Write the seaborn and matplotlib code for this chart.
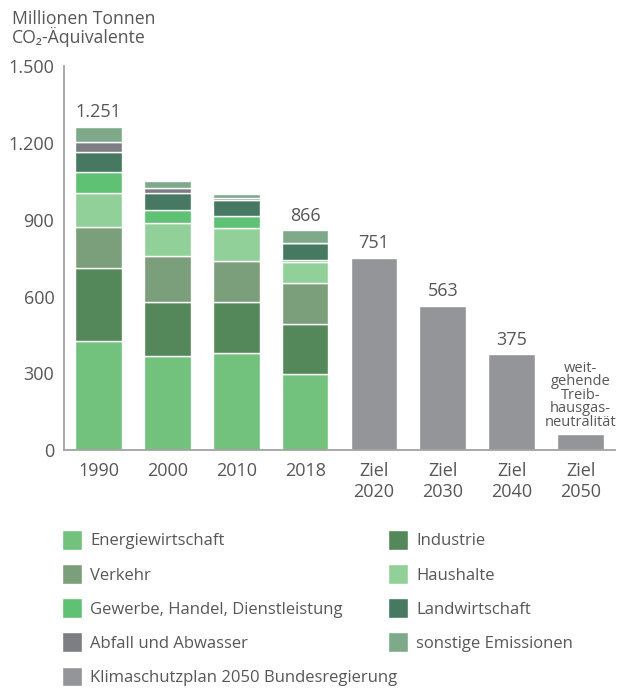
import numpy as np
import pandas as pd
import matplotlib
matplotlib.use("Agg")
import matplotlib.pyplot as plt
from matplotlib.patches import Patch
import seaborn as sns

# --- data (Mio. t CO2-Äquivalente) ---
years = ["1990", "2000", "2010", "2018"]
targets = ["Ziel\n2020", "Ziel\n2030", "Ziel\n2040", "Ziel\n2050"]
categories = years + targets

sectors = ["Energiewirtschaft", "Industrie", "Verkehr", "Haushalte",
           "Gewerbe, Handel, Dienstleistung", "Landwirtschaft",
           "Abfall und Abwasser", "sonstige Emissionen"]
energie = [426, 368, 378, 297]
industrie = [284, 210, 200, 195]
verkehr = [164, 179, 160, 162]
haushalte = [131, 132, 132, 83]
ghd = [81, 51, 44, 8]
landwirtschaft = [78, 64, 65, 66]
abfall = [42, 21, 8, 0]
sonstige = [58, 29, 16, 49]
sector_values = [energie, industrie, verkehr, haushalte, ghd, landwirtschaft, abfall, sonstige]

target_name = "Klimaschutzplan 2050 Bundesregierung"
target_values = [751, 563, 375, 63]

total_labels = ["1.251", "", "", "866"]
target_labels = ["751", "563", "375", ""]
target_2050_note = "weit-\ngehende\nTreib-\nhausgas-\nneutralität"

yticks = [0, 300, 600, 900, 1200, 1500]
ytick_labels = ["0", "300", "600", "900", "1.200", "1.500"]

sector_colors = ["#72c17d", "#548759", "#7b9e7b", "#92d09a",
                 "#5fc173", "#467862", "#7d7e83", "#7eaa89"]
target_color = "#949599"
text_color = "#575757"
axis_color = "#a3a3a3"

sns.set_style("white")
plt.rcParams["font.family"] = ["Open Sans", "DejaVu Sans"]

fig = plt.figure(figsize=(6.25, 6.91), dpi=100)
ax = fig.add_axes([0.1024, 0.3488, 0.8816, 0.555])

bottom = np.zeros(len(years))
for name, vals, col in zip(sectors, sector_values, sector_colors):
    df = pd.DataFrame({"cat": years, "val": vals})
    sns.barplot(data=df, x="cat", y="val", order=categories, color=col,
                saturation=1, width=0.68, bottom=bottom, edgecolor="white",
                linewidth=1, ax=ax, errorbar=None)
    bottom = bottom + np.array(vals)
top_container = ax.containers[-1]

df_t = pd.DataFrame({"cat": targets, "val": target_values})
sns.barplot(data=df_t, x="cat", y="val", order=categories, color=target_color,
            saturation=1, width=0.68, edgecolor="white", linewidth=1,
            ax=ax, errorbar=None)
target_container = ax.containers[-1]

ax.bar_label(top_container, labels=total_labels, padding=4, fontsize=13, color=text_color)
ax.bar_label(target_container, labels=target_labels, padding=4, fontsize=13, color=text_color)
ax.annotate(target_2050_note, xy=(categories.index(targets[-1]), target_values[-1]),
            xytext=(0, 3), textcoords="offset points", ha="center", va="bottom",
            fontsize=10.5, linespacing=0.86, color=text_color)

ax.set_xlim(-0.5, len(categories) - 0.5)
ax.set_ylim(0, 1500)
ax.set_yticks(yticks)
ax.set_yticklabels(ytick_labels)
ax.set_xlabel("")
ax.set_ylabel("")
sns.despine(ax=ax)
for side in ["left", "bottom"]:
    ax.spines[side].set_color(axis_color)
    ax.spines[side].set_linewidth(1.3)

ax.tick_params(axis="y", direction="in", length=6.5, width=1.3, color=axis_color,
               pad=7, labelsize=13, labelcolor=text_color)
ax.yaxis.get_major_ticks()[-1].tick1line.set_markersize(10)
ax.tick_params(axis="x", which="major", length=0, pad=9, labelsize=13, labelcolor=text_color)
ax.set_xticks(np.arange(0.5, len(categories), 1), minor=True)
ax.tick_params(axis="x", which="minor", direction="in", length=6.5, width=1.3, color=axis_color)

fig.text(12 / 625, 1 - 10 / 691, "Millionen Tonnen\nCO₂-Äquivalente", ha="left", va="top",
         fontsize=12.7, linespacing=0.95, color=text_color)

# legend: two independent columns
col1 = [0, 2, 4, 6]
col2 = [1, 3, 5, 7]
h1 = [Patch(facecolor=sector_colors[i], label=sectors[i]) for i in col1]
h1.append(Patch(facecolor=target_color, label=target_name))
h2 = [Patch(facecolor=sector_colors[i], label=sectors[i]) for i in col2]
leg_kw = dict(loc="upper left", frameon=False, fontsize=12, handlelength=1.24,
              handleheight=1.45, handletextpad=0.46, labelspacing=0.86,
              borderpad=0, borderaxespad=0, labelcolor=text_color)
leg1 = fig.legend(handles=h1, bbox_to_anchor=(61.7 / 625, 1 - 530 / 691), **leg_kw)
fig.legend(handles=h2, bbox_to_anchor=(387.7 / 625, 1 - 530 / 691), **leg_kw)

fig.savefig("out.png", dpi=100)
